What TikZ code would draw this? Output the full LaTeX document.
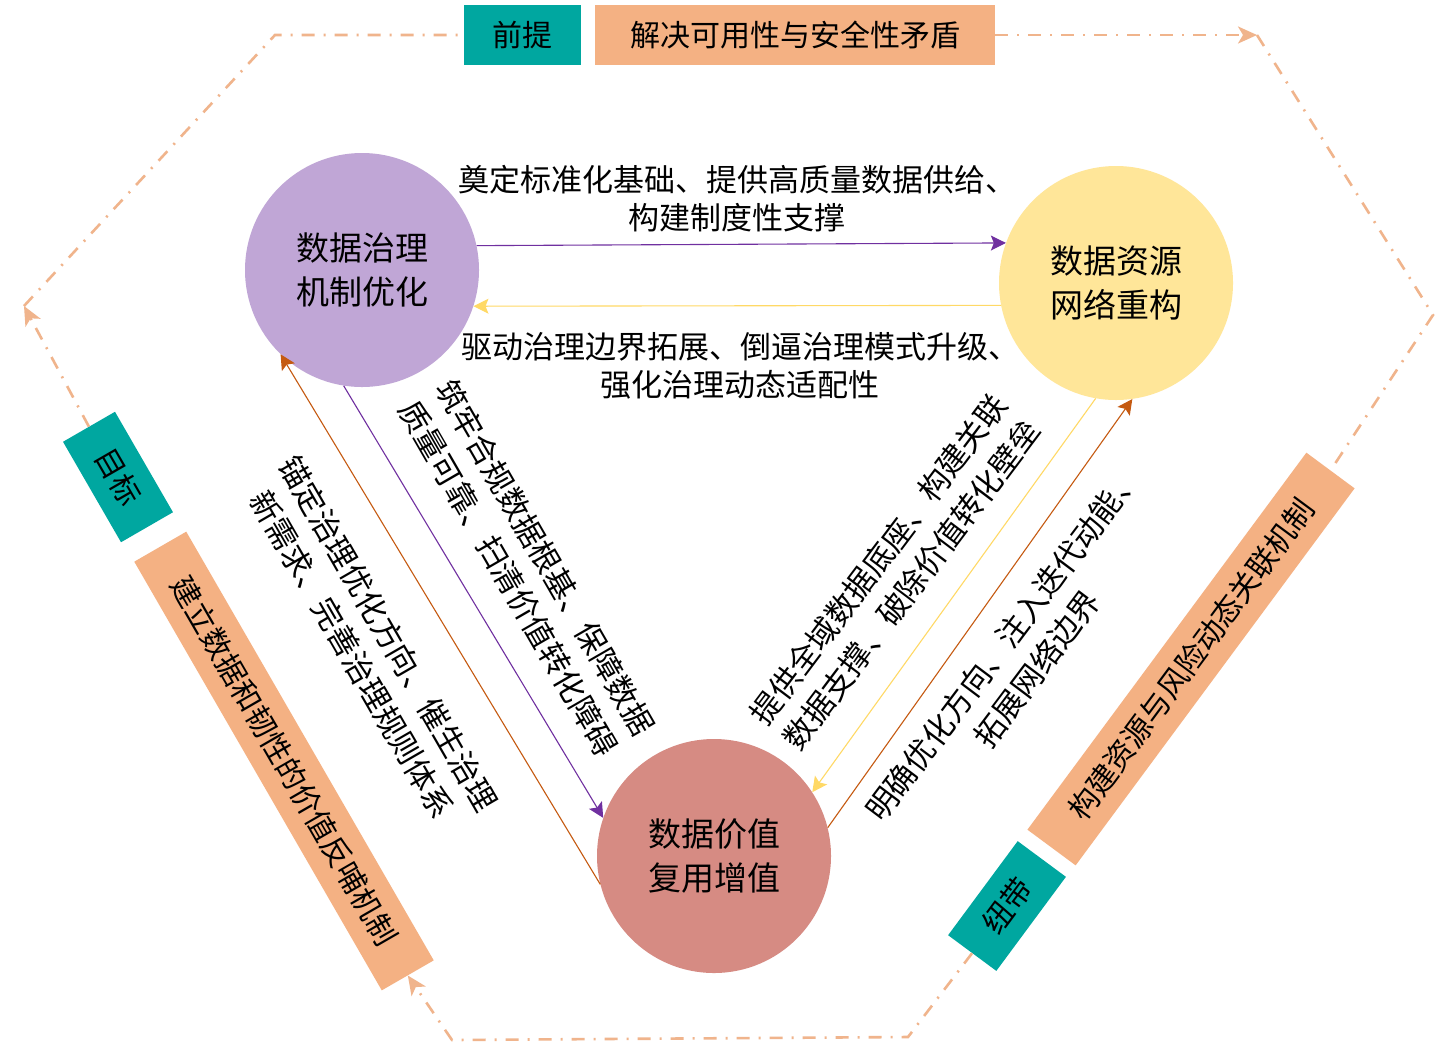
\documentclass[tikz,border=0pt]{standalone}
\usepackage{fontspec}
\newfontfamily\cjk{Noto Sans CJK SC}
\usetikzlibrary{arrows.meta}
\definecolor{hexc}{RGB}{240,180,140}
\definecolor{tealc}{RGB}{0,167,160}
\definecolor{salm}{RGB}{244,177,131}
\definecolor{purc}{RGB}{192,166,214}
\definecolor{yelc}{RGB}{255,230,153}
\definecolor{pinc}{RGB}{214,139,131}
\definecolor{arrp}{RGB}{112,48,160}
\definecolor{arry}{RGB}{255,217,102}
\definecolor{arrb}{RGB}{197,90,17}
\tikzset{
  hub/.style={circle, minimum size=234pt, inner sep=0pt, align=center, font=\cjk\fontsize{33}{44}\selectfont},
  tagbox/.style={fill=tealc, minimum height=60pt, inner sep=0pt, font=\cjk\fontsize{30}{36}\selectfont},
  notebox/.style={fill=salm, minimum height=60pt, inner sep=0pt, font=\cjk\fontsize{30}{36}\selectfont},
  lbl/.style={align=center, inner sep=0pt, font=\cjk\fontsize{31}{38}\selectfont},
  rlbl/.style={align=center, inner sep=0pt, font=\cjk\fontsize{31}{42}\selectfont},
  hexline/.style={draw=hexc, line width=2.6pt, line join=miter, dash pattern=on 13pt off 9pt on 2pt off 9pt},
  hextip/.style={-{Stealth[length=19pt,width=17pt,inset=5pt]}},
  conn/.style={line width=1.1pt, -{Stealth[length=15pt,width=15pt,inset=3pt]}}
}
\begin{document}
\begin{tikzpicture}[x=1pt,y=-1pt]
\useasboundingbox[fill=white] (0,0) rectangle (1439,1053);

% boxes on the hexagon
\node[tagbox, minimum width=117pt] (prem) at (522,35) {前提};
\node[notebox, minimum width=400pt] (cond) at (795,35) {解决可用性与安全性矛盾};
\node[tagbox, minimum width=116pt, rotate=-60] (goal) at (118,477) {目标};
\node[notebox, minimum width=495pt, rotate=-60] (build) at (284,761) {建立数据和韧性的价值反哺机制};
\node[tagbox, minimum width=117pt, rotate=53.5] (tie) at (1007,906) {纽带};
\node[notebox, minimum width=469pt, rotate=53.5] (ctor) at (1191,659) {构建资源与风险动态关联机制};

% hexagon corners
\coordinate (A) at (275,35);
\coordinate (B) at (1257,35);
\coordinate (C) at (1433,315);
\coordinate (D) at (908,1037);
\coordinate (E) at (452,1040);
\coordinate (F) at (24,306);

\draw[hexline] (F) -- (A) -- (prem.west);
\draw[hexline, hextip] (cond.east) -- (B);
\draw[hexline] (B) -- (C) -- (ctor.east);
\draw[hexline, hextip] (tie.west) -- (D) -- (E) -- (build.east);
\draw[hexline, hextip] (goal.west) -- (F);

% hubs
\node[hub, fill=purc] (gov) at (362,270) {数据治理\\机制优化};
\node[hub, fill=yelc] (res) at (1116,283) {数据资源\\网络重构};
\node[hub, fill=pinc] (val) at (714,856) {数据价值\\复用增值};

% connectors
\draw[conn, draw=arrp] (gov.12.8) -- (res.160.5);
\draw[conn, draw=arry] (res.191.8) -- (gov.-18.4);
\draw[conn, draw=arrp] (gov.261.6) -- (val.161);
\draw[conn, draw=arrb] (val.194.7) -- (gov.226);
\draw[conn, draw=arry] (res.260.6) -- (val.33.6);
\draw[conn, draw=arrb] (val.14.7) -- (res.278.3);

% labels
\node[lbl] (l1) at (737,199) {奠定标准化基础、提供高质量数据供给、\\构建制度性支撑};
\node[lbl] (l2) at (740,366) {驱动治理边界拓展、倒逼治理模式升级、\\强化治理动态适配性};
\node[rlbl, rotate=-60] (l3) at (527,568) {筑牢合规数据根基、保障数据\\质量可靠、扫清价值转化障碍};
\node[rlbl, rotate=-60] (l4) at (370,644) {锚定治理优化方向、催生治理\\新需求、完善治理规则体系};
\node[rlbl, rotate=53] (l5) at (895,572) {提供全域数据底座、构建关联\\数据支撑、破除价值转化壁垒};
\node[rlbl, rotate=53] (l6) at (1020,656) {明确优化方向、注入迭代动能、\\拓展网络边界};
\end{tikzpicture}
\end{document}
